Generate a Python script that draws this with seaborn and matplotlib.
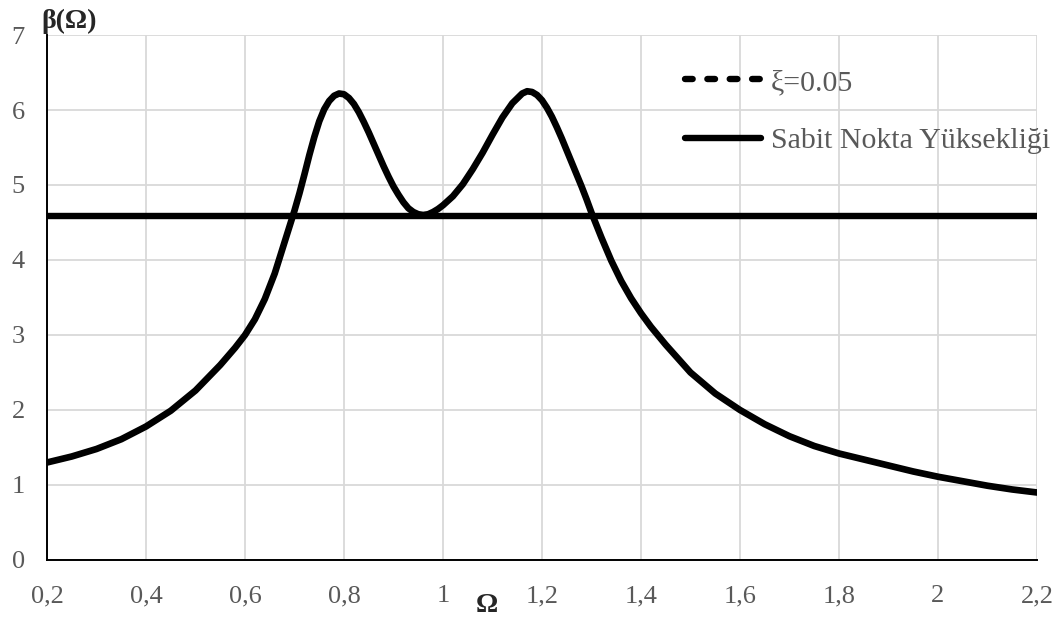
import matplotlib
matplotlib.use("Agg")
import matplotlib.pyplot as plt
from matplotlib.lines import Line2D
import seaborn as sns
import pandas as pd

# ---- data ----
omega = [0.20, 0.25, 0.30, 0.35, 0.40, 0.45, 0.50, 0.55, 0.58, 0.60,
         0.62, 0.64, 0.66, 0.68, 0.70, 0.71, 0.72, 0.73, 0.74, 0.75,
         0.76, 0.77, 0.78, 0.79, 0.80, 0.81, 0.82, 0.83, 0.84, 0.85,
         0.86, 0.87, 0.88, 0.89, 0.90, 0.91, 0.92, 0.93, 0.94, 0.95,
         0.96, 0.97, 0.98, 0.99, 1.00, 1.02, 1.04, 1.06, 1.08, 1.10,
         1.12, 1.14, 1.16, 1.17, 1.18, 1.19, 1.20, 1.21, 1.22, 1.23,
         1.24, 1.25, 1.26, 1.27, 1.28, 1.29, 1.30, 1.32, 1.34, 1.36,
         1.38, 1.40, 1.42, 1.45, 1.50, 1.55, 1.60, 1.65, 1.70, 1.75,
         1.80, 1.85, 1.90, 1.95, 2.00, 2.05, 2.10, 2.15, 2.20]
beta = [1.30, 1.38, 1.48, 1.61, 1.78, 1.99, 2.26, 2.60, 2.83, 3.00,
        3.21, 3.48, 3.82, 4.24, 4.66, 4.89, 5.14, 5.40, 5.64, 5.85,
        6.01, 6.12, 6.19, 6.22, 6.21, 6.16, 6.08, 5.97, 5.84, 5.70,
        5.55, 5.40, 5.25, 5.11, 4.98, 4.87, 4.77, 4.69, 4.64, 4.61,
        4.60, 4.61, 4.64, 4.68, 4.73, 4.85, 5.01, 5.21, 5.43, 5.67,
        5.90, 6.09, 6.22, 6.25, 6.24, 6.20, 6.13, 6.03, 5.91, 5.77,
        5.62, 5.46, 5.30, 5.14, 4.98, 4.81, 4.63, 4.30, 3.99, 3.72,
        3.49, 3.29, 3.11, 2.87, 2.50, 2.22, 2.00, 1.81, 1.65, 1.52,
        1.42, 1.34, 1.26, 1.18, 1.11, 1.05, 0.99, 0.94, 0.90]
fixed_x = [0.2, 2.2]
fixed_y = [4.59, 4.59]
label_curve = "ξ=0.05"
label_fixed = "Sabit Nokta Yüksekliği"
xticks = [0.2, 0.4, 0.6, 0.8, 1.0, 1.2, 1.4, 1.6, 1.8, 2.0, 2.2]
xticklabels = ["0,2", "0,4", "0,6", "0,8", "1", "1,2", "1,4", "1,6", "1,8", "2", "2,2"]
yticks = [0, 1, 2, 3, 4, 5, 6, 7]

sns.set_theme(style="white")
plt.rcParams["font.family"] = ["Liberation Serif", "DejaVu Serif"]

fig = plt.figure(figsize=(10.64, 6.24), dpi=100)
ax = fig.add_axes([0.0442, 0.1026, 0.9304, 0.8413])

df_curve = pd.DataFrame({"x": omega, "y": beta})
df_fixed = pd.DataFrame({"x": fixed_x, "y": fixed_y})

sns.lineplot(data=df_fixed, x="x", y="y", ax=ax, color="black", lw=4.6,
             solid_capstyle="butt", zorder=3)
sns.lineplot(data=df_curve, x="x", y="y", ax=ax, color="black", lw=4.8,
             solid_capstyle="round", solid_joinstyle="round", zorder=4)

ax.set_xlim(0.2, 2.2)
ax.set_ylim(0, 7)
ax.set_xticks(xticks)
ax.set_xticklabels(xticklabels)
ax.set_yticks(yticks)
ax.set_xlabel("")
ax.set_ylabel("")
ax.grid(True, color="#d9d9d9", lw=1.3)
ax.set_axisbelow(True)
for s in ["top", "right"]:
    ax.spines[s].set_visible(False)
for s in ["left", "bottom"]:
    ax.spines[s].set_color("black")
    ax.spines[s].set_linewidth(1.4)
ax.tick_params(axis="both", which="major", direction="out", length=6, width=1.4,
               color="black", labelsize=19, labelcolor="#595959")
ax.tick_params(axis="y", pad=10)
ax.tick_params(axis="x", pad=12)

fig.text(0.065, 0.966, "β(Ω)", fontsize=20, fontweight="bold", ha="center", va="center")
fig.text(0.458, 0.030, "Ω", fontsize=20, fontweight="bold", ha="center", va="center")

handles = [
    Line2D([0], [0], color="black", lw=4.6, linestyle=(0, (1.2, 2.3)),
           dash_capstyle="round"),
    Line2D([0], [0], color="black", lw=4.6, solid_capstyle="round"),
]
leg = ax.legend(handles, [label_curve, label_fixed], loc="upper left",
                bbox_to_anchor=(0.632, 0.958), frameon=False, fontsize=21.5,
                handlelength=2.55, handletextpad=0.35, labelspacing=1.05,
                borderaxespad=0)
for t in leg.get_texts():
    t.set_color("#595959")

fig.savefig("out.png", dpi=100)
